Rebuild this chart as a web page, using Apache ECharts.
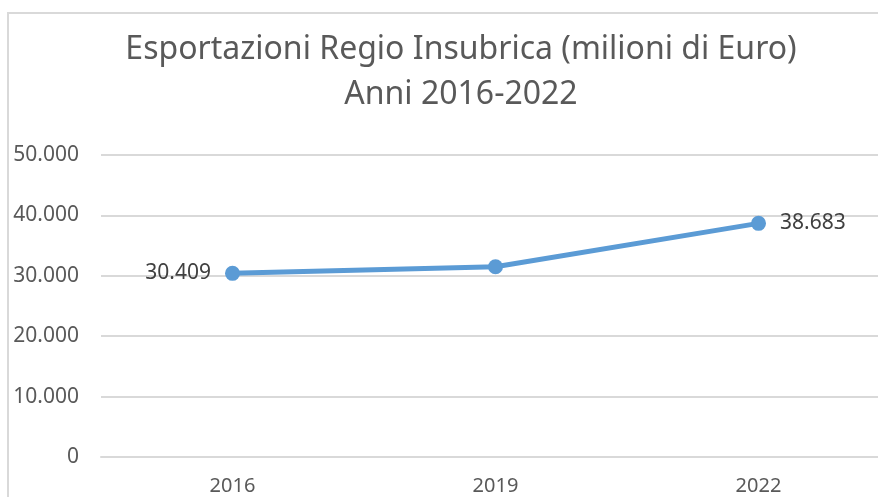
<!DOCTYPE html>
<html>
<head>
<meta charset="UTF-8">
<title>Esportazioni Regio Insubrica</title>
<script src="https://cdn.jsdelivr.net/npm/echarts@6/dist/echarts.min.js"></script>
<style>html,body{margin:0;padding:0;background:#fff}</style>
</head>
<body>
<div id="main" style="width:878px;height:497px;"></div>
<script type="text/javascript">
// dati
var anni = ['2016', '2019', '2022'];
var esportazioni = [30409, 31500, 38683];
var etichette = [true, false, true];

var fmt = function (v) {
    return String(v).replace(/\B(?=(\d{3})+(?!\d))/g, '.');
};

var myChart = echarts.init(document.getElementById('main'));

var option = {
    animation: false,
    textStyle: { fontFamily: 'Noto Sans' },
    title: {
        text: 'Esportazioni Regio Insubrica (milioni di Euro)\nAnni 2016-2022',
        left: 456,
        top: 22,
        textAlign: 'center',
        textStyle: { fontSize: 32, fontWeight: 'normal', color: '#595959', lineHeight: 45, fontFamily: 'Noto Sans' }
    },
    graphic: [{
        type: 'polyline',
        shape: { points: [[8, 497], [8, 13], [878, 13]] },
        style: { stroke: '#d9d9d9', lineWidth: 2, fill: null }
    }],
    grid: { left: 101, width: 789, top: 155, bottom: 40, outerBoundsMode: 'none' },
    xAxis: {
        type: 'category',
        data: anni,
        boundaryGap: true,
        axisLine: { show: true, lineStyle: { color: '#d9d9d9', width: 2 } },
        axisTick: { show: false },
        axisLabel: { color: '#595959', fontSize: 20, margin: 19 }
    },
    yAxis: {
        type: 'value',
        min: 0,
        max: 50000,
        interval: 10000,
        axisLine: { show: false },
        axisTick: { show: false },
        splitLine: { lineStyle: { color: '#d9d9d9', width: 2 } },
        axisLabel: { color: '#595959', fontSize: 21, margin: 22, formatter: fmt }
    },
    series: [{
        type: 'line',
        data: esportazioni.map(function (v, i) {
            return {
                value: v,
                label: {
                    show: etichette[i],
                    position: i === 0 ? 'left' : 'right',
                    distance: 14
                }
            };
        }),
        symbol: 'circle',
        symbolSize: 15,
        lineStyle: { color: '#5b9bd5', width: 5 },
        itemStyle: { color: '#5b9bd5' },
        label: {
            color: '#404040',
            fontSize: 21,
            formatter: function (p) { return fmt(p.value); }
        }
    }]
};
myChart.setOption(option);
</script>
</body>
</html>
